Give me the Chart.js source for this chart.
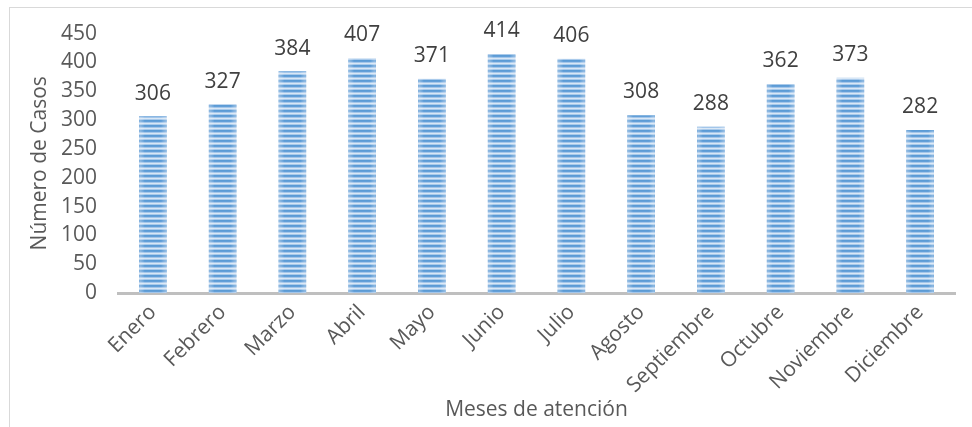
<!DOCTYPE html>
<html lang="es">
<head>
<meta charset="utf-8">
<title>Número de Casos por mes</title>
<script src="https://cdn.jsdelivr.net/npm/chart.js@4/dist/chart.umd.min.js"></script>
<style>
  html, body { margin: 0; padding: 0; background: #fff; }
  #wrap { position: relative; width: 972px; height: 427px; }
  #frame {
    position: absolute; left: 9px; top: 7px; right: -2px; bottom: -2px;
    border-left: 1px solid #d9d9d9; border-top: 1px solid #d9d9d9;
    pointer-events: none;
  }
  canvas { position: absolute; left: 0; top: 0; }
</style>
</head>
<body>
<div id="wrap">
  <canvas id="chart" width="972" height="427"></canvas>
  <div id="frame"></div>
</div>
<script>
// Casos atendidos por mes
const months = ['Enero', 'Febrero', 'Marzo', 'Abril', 'Mayo', 'Junio', 'Julio',
  'Agosto', 'Septiembre', 'Octubre', 'Noviembre', 'Diciembre'];
const cases = [306, 327, 384, 407, 371, 414, 406, 308, 288, 362, 373, 282];
const yTicks = [0, 50, 100, 150, 200, 250, 300, 350, 400, 450];

const FONT = '"Open Sans", "Liberation Sans", sans-serif';
const SIZE = 21;
const TEXT = '#595959';

// Horizontal stripe fill for the bars
function stripeFill(ctx) {
  const c = document.createElement('canvas');
  c.width = 1;
  c.height = 5;
  const p = c.getContext('2d');
  const rows = ['#5b9bd5', '#639fd8', '#a3c6ea', '#d8e7f6', '#a9caeb'];
  rows.forEach((col, i) => { p.fillStyle = col; p.fillRect(0, i, 1, 1); });
  return ctx.createPattern(c, 'repeat');
}

// Soft shading across each bar plus the value above it
const barExtras = {
  id: 'barExtras',
  afterDatasetsDraw(chart) {
    const { ctx } = chart;
    const meta = chart.getDatasetMeta(0);
    ctx.save();
    meta.data.forEach((bar, i) => {
      const half = bar.width / 2;
      const g = ctx.createLinearGradient(bar.x - half, 0, bar.x + half, 0);
      g.addColorStop(0, 'rgba(225,232,242,0.4)');
      g.addColorStop(0.2, 'rgba(255,255,255,0)');
      g.addColorStop(0.8, 'rgba(255,255,255,0)');
      g.addColorStop(1, 'rgba(225,232,242,0.4)');
      ctx.fillStyle = g;
      ctx.fillRect(bar.x - half, bar.y, bar.width, bar.base - bar.y);

      ctx.fillStyle = '#404040';
      ctx.font = SIZE + 'px ' + FONT;
      ctx.textAlign = 'center';
      ctx.textBaseline = 'alphabetic';
      ctx.fillText(String(cases[i]), bar.x, bar.y - 17);
    });
    ctx.restore();
  }
};

const ctx = document.getElementById('chart').getContext('2d');

new Chart(ctx, {
  type: 'bar',
  data: {
    labels: months,
    datasets: [{
      label: 'Número de Casos',
      data: cases,
      backgroundColor: stripeFill(ctx),
      borderWidth: 0,
      barThickness: 27
    }]
  },
  options: {
    responsive: false,
    animation: false,
    devicePixelRatio: 1,
    layout: { padding: { left: 20, right: 17, top: 33, bottom: 4 } },
    plugins: {
      legend: { display: false },
      tooltip: { enabled: false }
    },
    scales: {
      x: {
        grid: { display: false, drawTicks: false },
        border: { display: true, color: '#bfbfbf', width: 3 },
        ticks: {
          color: TEXT,
          font: { family: FONT, size: SIZE },
          autoSkip: false,
          minRotation: 45,
          maxRotation: 45,
          padding: 7
        },
        title: {
          display: true,
          text: 'Meses de atención',
          color: TEXT,
          font: { family: FONT, size: SIZE },
          padding: { top: 0, bottom: 0 }
        },
        afterFit(scale) { scale.height = 130; }
      },
      y: {
        min: 0,
        max: 450,
        grid: { display: false, drawTicks: false },
        border: { display: false },
        afterBuildTicks(scale) { scale.ticks = yTicks.map(v => ({ value: v })); },
        ticks: {
          color: TEXT,
          font: { family: FONT, size: SIZE },
          padding: 21
        },
        title: {
          display: true,
          text: 'Número de Casos',
          color: TEXT,
          font: { family: FONT, size: SIZE },
          padding: { top: 7, bottom: 0 }
        },
        afterFit(scale) { scale.width = 98; }
      }
    }
  },
  plugins: [barExtras]
});
</script>
</body>
</html>
